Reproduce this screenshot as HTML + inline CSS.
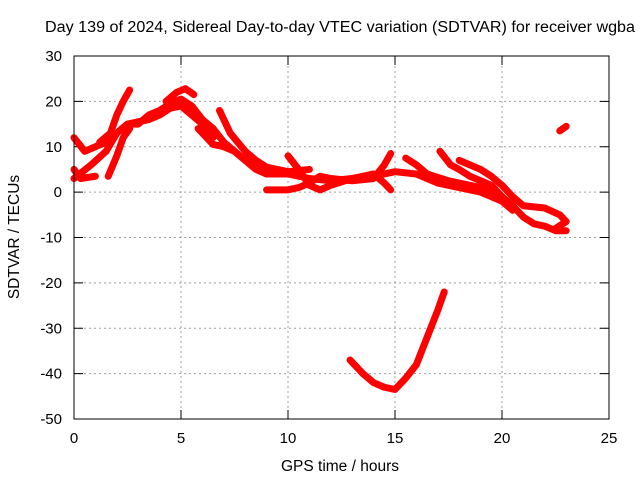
<!DOCTYPE html>
<html><head><meta charset="utf-8"><style>
body{margin:0;background:#fff}
svg{display:block;font-family:"Liberation Sans",sans-serif}
</style></head><body>
<svg id="chart" width="640" height="480" viewBox="0 0 640 480">
<rect width="640" height="480" fill="#fff"/>
<text x="45" y="32" font-size="15.5" textLength="590" lengthAdjust="spacingAndGlyphs" fill="#000">Day 139 of 2024, Sidereal Day-to-day VTEC variation (SDTVAR) for receiver wgba</text>
<text x="340" y="471" font-size="15.5" text-anchor="middle">GPS time / hours</text>
<text transform="translate(19,237) rotate(-90)" font-size="15.5" text-anchor="middle">SDTVAR / TECUs</text>
<g id="grid"></g>
<g id="ticks"></g>
<g id="series"></g>
<rect x="74" y="56" width="535" height="363" fill="none" stroke="#000" stroke-width="1"/>
</svg>
<script>
const xTicks=[0,5,10,15,20,25];
const yTicks=[30,20,10,0,-10,-20,-30,-40,-50];
const t1=[[0,12],[0.5,9],[1,10],[1.5,11],[2,13],[2.5,15],[3,15],[3.5,17],[4,18],[4.5,19.5],[5,20.5],[5.5,19],[6,16],[6.5,14],[7,11],[7.5,9],[8,7],[8.5,5],[9,4],[10,4],[11,3],[12,2.5],[13,3],[14,3.5],[15,4.5],[16,4],[17,2],[18,1],[19,0],[20,-2],[20.5,-4]];
const t2=[[0,5],[0.3,3],[1,3.5]];
const t3=[[0,3],[0.8,6],[1.5,9],[2,13],[2.5,15],[3,15.5],[3.5,16],[4,17],[4.5,18.5],[5,19],[5.5,17],[6,15],[6.5,12]];
const t4=[[1.6,3.5],[2,8],[2.3,12],[2.6,14]];
const t4b=[[1.2,11],[1.7,13],[2,17],[2.3,20],[2.6,22.5]];
const t5=[[4.3,20],[4.8,22],[5.2,22.8],[5.6,21.5]];
const t6=[[6.8,18],[7.3,13],[8,9],[8.5,7],[9,5.5],[10,4.5],[11,5]];
const t7=[[5.8,14],[6.5,10.5],[7,10],[7.5,9],[8,7],[9,4],[9.5,4]];
const t8=[[9,0.5],[10,0.5],[10.5,1],[11,2],[11.5,3.5],[12,3],[13,2.5],[14,3],[14.5,6],[14.8,8.5]];
const t9=[[10,8],[10.5,5],[11,1.5],[11.5,0.5],[12,1.5],[13,3],[14,4],[14.5,2],[14.8,0.5]];
const t10=[[15.5,7.5],[16,6],[16.5,4],[17.5,2.5],[18,2],[19,1],[20,-1]];
const t11=[[17.1,9],[17.6,6],[18,5],[18.5,3.5],[19.5,1.5],[20,-1],[20.5,-3],[21,-5.5],[21.5,-7],[22,-7.5],[22.5,-8.5],[23,-8.5]];
const t12=[[18,7],[18.5,6],[19,5],[19.5,3.5],[20,1.5],[20.5,-1],[21,-3],[22,-3.5],[22.7,-5],[23,-6.5],[22.5,-8]];
const t13=[[22.7,13.5],[23,14.5]];
const t14=[[12.9,-37],[13.5,-40],[14,-42],[14.5,-43],[15,-43.5],[15.5,-41],[16,-38],[16.5,-32],[17,-26],[17.3,-22]];
const tracks=[t1,t2,t3,t4,t4b,t5,t6,t7,t8,t9,t10,t11,t12,t13,t14];
const X=v=>74+v*535/25, Y=v=>56+(30-v)*363/80;
const NS="http://www.w3.org/2000/svg";
const grid=document.getElementById('grid'),ticks=document.getElementById('ticks'),ser=document.getElementById('series');
function mk(tag,at,p){const e=document.createElementNS(NS,tag);for(const k in at)e.setAttribute(k,at[k]);p.appendChild(e);return e;}
xTicks.forEach(v=>{
 if(v>0&&v<25){const g=mk('line',{x1:X(v),x2:X(v),y1:56,y2:419,stroke:'#a0a0a0','stroke-dasharray':'2,3'},grid);
 
 }
 mk('line',{x1:X(v),x2:X(v),y1:419,y2:410,stroke:'#000'},ticks);
 mk('line',{x1:X(v),x2:X(v),y1:56,y2:65,stroke:'#000'},ticks);
 const t=mk('text',{x:X(v),y:443,'font-size':15,'text-anchor':'middle'},ticks);t.textContent=v;
 
 
});
yTicks.forEach(v=>{
 if(v<30&&v>-50){const g=mk('line',{x1:74,x2:609,y1:Y(v),y2:Y(v),stroke:'#a0a0a0','stroke-dasharray':'2,3'},grid);
 
 }
 mk('line',{x1:74,x2:83,y1:Y(v),y2:Y(v),stroke:'#000'},ticks);
 mk('line',{x1:600,x2:609,y1:Y(v),y2:Y(v),stroke:'#000'},ticks);
 const t=mk('text',{x:62,y:Y(v)+5,'font-size':15,'text-anchor':'end'},ticks);t.textContent=v;
 
 
});
tracks.forEach(tr=>{
 const p=mk('polyline',{points:tr.map(d=>X(d[0])+','+Y(d[1])).join(' '),fill:'none',stroke:'#ff0000','stroke-width':7,'stroke-linejoin':'round','stroke-linecap':'round'},ser);
 
 
});
</script>
</body></html>
